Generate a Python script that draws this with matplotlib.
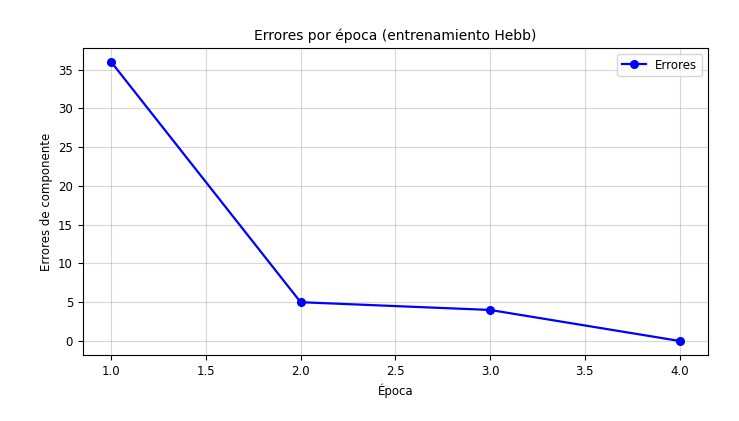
import numpy as np
import matplotlib
matplotlib.use('Agg')
import matplotlib.pyplot as plt

epocas = [1, 2, 3, 4]
errores = [36, 5, 4, 0]

plt.rcParams['font.size'] = 8.5

fig = plt.figure(figsize=(7.39, 4.21), dpi=100)
ax = fig.add_axes([0.112, 0.157, 0.846, 0.729])
ax.plot(epocas, errores, marker='o', color='blue', label='Errores', markersize=5.5, linewidth=1.6)
ax.set_title('Errores por época (entrenamiento Hebb)', fontsize=10)
ax.set_xlabel('Época')
ax.set_ylabel('Errores de componente')
ax.grid(True, alpha=0.5)
ax.legend()

fig.savefig('out.png', dpi=100)
